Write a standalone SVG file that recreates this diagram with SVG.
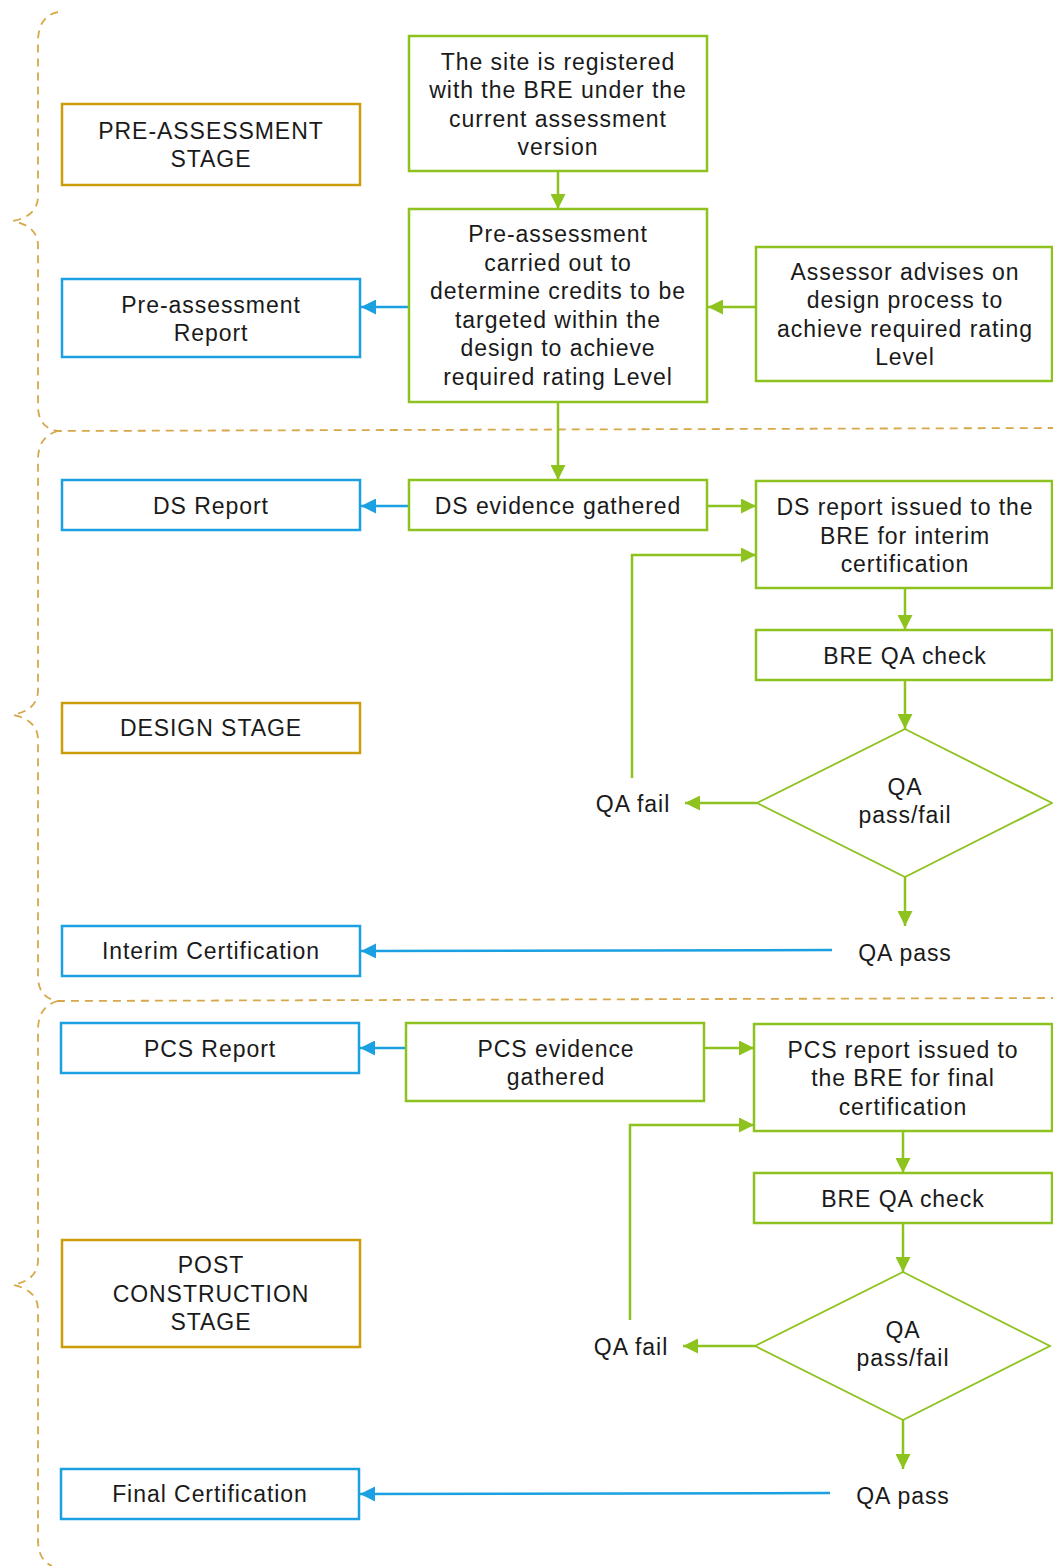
<svg xmlns="http://www.w3.org/2000/svg" width="1053" height="1566" viewBox="0 0 1053 1566">
<defs>
<style>
.t{font-family:"Liberation Sans",Arial,sans-serif;font-size:23px;fill:#1a1a1a;text-anchor:middle;letter-spacing:0.95px}
.g{fill:#fff;stroke:#8DC21F;stroke-width:2.5}
.b{fill:#fff;stroke:#1BA1E2;stroke-width:2.5}
.o{fill:#fff;stroke:#CC9C0A;stroke-width:2.5}
.d{fill:#fff;stroke:#8DC21F;stroke-width:1.8}
.cg{fill:none;stroke:#8DC21F;stroke-width:2.5;marker-end:url(#ag)}
.cb{fill:none;stroke:#1BA1E2;stroke-width:2.5;marker-end:url(#ab)}
.br{fill:none;stroke:#D6A84A;stroke-width:1.8;stroke-dasharray:8 6}
</style>
<marker id="ag" viewBox="0 0 14 14" refX="14" refY="7" markerWidth="15" markerHeight="15" markerUnits="userSpaceOnUse" orient="auto"><path d="M0,0 L14,7 L0,14 z" fill="#8DC21F"/></marker>
<marker id="ab" viewBox="0 0 14 14" refX="14" refY="7" markerWidth="15" markerHeight="15" markerUnits="userSpaceOnUse" orient="auto"><path d="M0,0 L14,7 L0,14 z" fill="#1BA1E2"/></marker>
</defs>
<rect width="1053" height="1566" fill="#fff"/>
<g id="braces">
<path class="br" d="M58,12 Q38,16 38,42 L38,196 Q38,216 13,221 Q38,226 38,246 L38,406 Q38,428 58,431 L1053,428"/>
<path class="br" d="M58,431 Q38,436 38,460 L38,690 Q38,710 13,715 Q38,720 38,740 L38,976 Q38,998 58,1001 L1053,998"/>
<path class="br" d="M58,1001 Q38,1006 38,1030 L38,1260 Q38,1280 13,1285 Q38,1290 38,1310 L38,1540 Q38,1560 52,1566"/>
</g>
<g id="connectors">
<line class="cg" x1="558" y1="171" x2="558" y2="209"/>
<line class="cg" x1="756" y1="307" x2="708" y2="307"/>
<line class="cb" x1="409" y1="307" x2="361" y2="307"/>
<line class="cg" x1="558" y1="402" x2="558" y2="480"/>
<line class="cb" x1="409" y1="506" x2="361" y2="506"/>
<line class="cg" x1="707" y1="506" x2="756" y2="506"/>
<polyline class="cg" points="632,778 632,555 756,555"/>
<line class="cg" x1="905" y1="588" x2="905" y2="630"/>
<line class="cg" x1="905" y1="680" x2="905" y2="729"/>
<line class="cg" x1="757" y1="803" x2="685" y2="803"/>
<line class="cg" x1="905" y1="877" x2="905" y2="926"/>
<line class="cb" x1="832" y1="950" x2="361" y2="951"/>
<line class="cb" x1="406" y1="1048" x2="360" y2="1048"/>
<line class="cg" x1="704" y1="1048" x2="754" y2="1048"/>
<polyline class="cg" points="630,1320 630,1125 754,1125"/>
<line class="cg" x1="903" y1="1131" x2="903" y2="1173"/>
<line class="cg" x1="903" y1="1223" x2="903" y2="1272"/>
<line class="cg" x1="755" y1="1346" x2="683" y2="1346"/>
<line class="cg" x1="903" y1="1420" x2="903" y2="1469"/>
<line class="cb" x1="830" y1="1493" x2="360" y2="1494"/>
</g>
<g id="stage-pre">
<rect class="o" x="62" y="104" width="298" height="81"/>
<text class="t" x="211" y="139">PRE-ASSESSMENT</text>
<text class="t" x="211" y="167">STAGE</text>
</g>
<g id="pre-report">
<rect class="b" x="62" y="279" width="298" height="78"/>
<text class="t" x="211" y="313">Pre-assessment</text>
<text class="t" x="211" y="341">Report</text>
</g>
<g id="registered">
<rect class="g" x="409" y="36" width="298" height="135"/>
<text class="t" x="558" y="70">The site is registered</text>
<text class="t" x="558" y="98">with the BRE under the</text>
<text class="t" x="558" y="127">current assessment</text>
<text class="t" x="558" y="155">version</text>
</g>
<g id="pre-assessment">
<rect class="g" x="409" y="209" width="298" height="193"/>
<text class="t" x="558" y="242">Pre-assessment</text>
<text class="t" x="558" y="271">carried out to</text>
<text class="t" x="558" y="299">determine credits to be</text>
<text class="t" x="558" y="328">targeted within the</text>
<text class="t" x="558" y="356">design to achieve</text>
<text class="t" x="558" y="385">required rating Level</text>
</g>
<g id="assessor">
<rect class="g" x="756" y="247" width="296" height="134"/>
<text class="t" x="905" y="280">Assessor advises on</text>
<text class="t" x="905" y="308">design process to</text>
<text class="t" x="905" y="337">achieve required rating</text>
<text class="t" x="905" y="365">Level</text>
</g>
<g id="ds-report">
<rect class="b" x="62" y="480" width="298" height="50"/>
<text class="t" x="211" y="514">DS Report</text>
</g>
<g id="ds-evidence">
<rect class="g" x="409" y="480" width="298" height="50"/>
<text class="t" x="558" y="514">DS evidence gathered</text>
</g>
<g id="ds-issued">
<rect class="g" x="756" y="481" width="296" height="107"/>
<text class="t" x="905" y="515">DS report issued to the</text>
<text class="t" x="905" y="544">BRE for interim</text>
<text class="t" x="905" y="572">certification</text>
</g>
<g id="ds-qa-check">
<rect class="g" x="756" y="630" width="296" height="50"/>
<text class="t" x="905" y="664">BRE QA check</text>
</g>
<g id="ds-decision">
<polygon class="d" points="905,729 1052,803 905,877 757,803"/>
<text class="t" x="905" y="795">QA</text>
<text class="t" x="905" y="823">pass/fail</text>
</g>
<g id="ds-fail"><text class="t" x="633" y="812">QA fail</text></g>
<g id="ds-pass"><text class="t" x="905" y="961">QA pass</text></g>
<g id="stage-design">
<rect class="o" x="62" y="703" width="298" height="50"/>
<text class="t" x="211" y="736">DESIGN STAGE</text>
</g>
<g id="interim">
<rect class="b" x="62" y="926" width="298" height="50"/>
<text class="t" x="211" y="959">Interim Certification</text>
</g>
<g id="pcs-report">
<rect class="b" x="61" y="1023" width="298" height="50"/>
<text class="t" x="210" y="1057">PCS Report</text>
</g>
<g id="pcs-evidence">
<rect class="g" x="406" y="1023" width="298" height="78"/>
<text class="t" x="556" y="1057">PCS evidence</text>
<text class="t" x="556" y="1085">gathered</text>
</g>
<g id="pcs-issued">
<rect class="g" x="754" y="1024" width="298" height="107"/>
<text class="t" x="903" y="1058">PCS report issued to</text>
<text class="t" x="903" y="1086">the BRE for final</text>
<text class="t" x="903" y="1115">certification</text>
</g>
<g id="pcs-qa-check">
<rect class="g" x="754" y="1173" width="298" height="50"/>
<text class="t" x="903" y="1207">BRE QA check</text>
</g>
<g id="pcs-decision">
<polygon class="d" points="903,1272 1050,1346 903,1420 755,1346"/>
<text class="t" x="903" y="1338">QA</text>
<text class="t" x="903" y="1366">pass/fail</text>
</g>
<g id="pcs-fail"><text class="t" x="631" y="1355">QA fail</text></g>
<g id="pcs-pass"><text class="t" x="903" y="1504">QA pass</text></g>
<g id="stage-post">
<rect class="o" x="62" y="1240" width="298" height="107"/>
<text class="t" x="211" y="1273">POST</text>
<text class="t" x="211" y="1302">CONSTRUCTION</text>
<text class="t" x="211" y="1330">STAGE</text>
</g>
<g id="final">
<rect class="b" x="61" y="1469" width="298" height="50"/>
<text class="t" x="210" y="1502">Final Certification</text>
</g>
</svg>
